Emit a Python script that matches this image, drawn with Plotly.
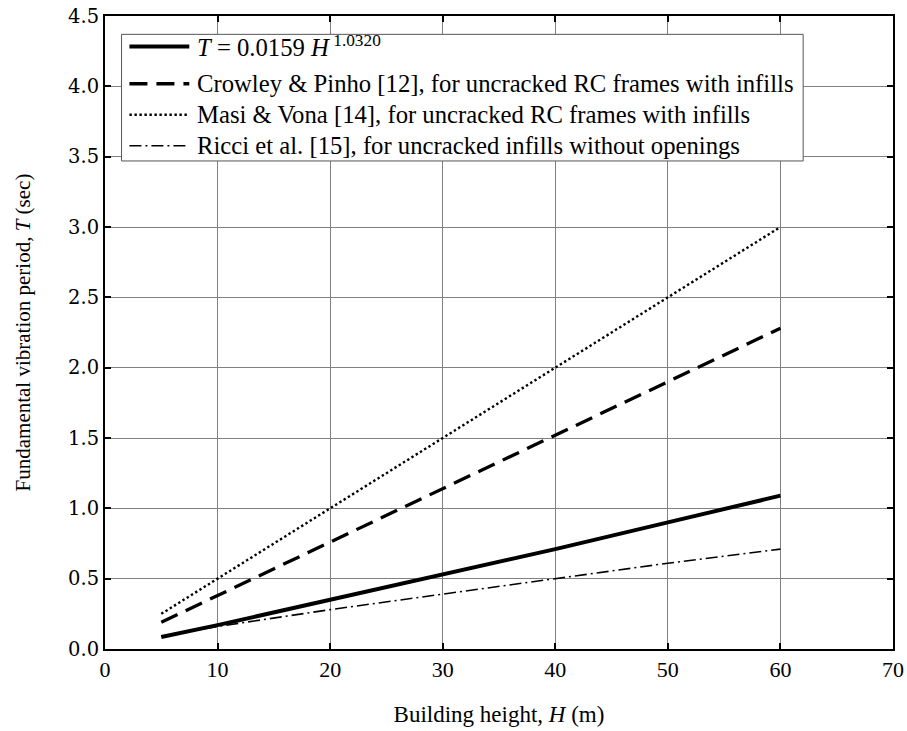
import plotly.graph_objects as go

# Data
H = [5, 10, 20, 30, 40, 50, 60]
T_proposed = [0.085, 0.17, 0.35, 0.53, 0.71, 0.90, 1.09]
T_crowley = [0.19, 0.38, 0.76, 1.14, 1.52, 1.90, 2.28]
T_masi = [0.25, 0.50, 1.00, 1.50, 2.00, 2.50, 3.00]
T_ricci = [0.09, 0.16, 0.28, 0.39, 0.50, 0.61, 0.71]

x_ticks = [0, 10, 20, 30, 40, 50, 60, 70]
y_ticks = [0.0, 0.5, 1.0, 1.5, 2.0, 2.5, 3.0, 3.5, 4.0, 4.5]
y_tick_text = [f"{v:.1f}" for v in y_ticks]

legend_labels = [
    "<i>T</i> = 0.0159 <i>H</i><sup> 1.0320</sup>",
    "Crowley &amp; Pinho [12], for uncracked RC frames with infills",
    "Masi &amp; Vona [14], for uncracked RC frames with infills",
    "Ricci et al. [15], for uncracked infills without openings",
]

styles = [
    dict(width=4, dash="solid"),
    dict(width=3.3, dash="18px,9px"),
    dict(width=2.4, dash="2.4px,2.6px"),
    dict(width=1.6, dash="12px,4px,2px,4px"),
]

series = [T_proposed, T_crowley, T_masi, T_ricci]

fig = go.Figure()
for ys, st, name in zip(series, styles, legend_labels):
    fig.add_trace(go.Scatter(x=H, y=ys, mode="lines", name=name,
                             line=dict(color="black", width=st["width"], dash=st["dash"]),
                             showlegend=False))

serif = "Liberation Serif, Times New Roman, serif"

# manual legend (paper coordinates)
lx0, lx1, ly0, ly1 = 0.021, 0.886, 0.771, 0.971
fig.add_shape(type="rect", xref="paper", yref="paper", x0=lx0, x1=lx1, y0=ly0, y1=ly1,
              line=dict(color="#555555", width=1), fillcolor="white", layer="above")
rows = [0.952, 0.893, 0.844, 0.795]
for yr, st, lab in zip(rows, styles, legend_labels):
    fig.add_shape(type="line", xref="paper", yref="paper", x0=0.031, x1=0.107, y0=yr, y1=yr,
                  line=dict(color="black", width=st["width"], dash=st["dash"]), layer="above")
    fig.add_annotation(xref="paper", yref="paper", x=0.114, y=yr, text=lab, showarrow=False,
                       xanchor="left", yanchor="middle",
                       font=dict(family=serif, size=24.7, color="black"))

fig.update_layout(
    width=907, height=731,
    margin=dict(l=105, r=14, t=16, b=82),
    plot_bgcolor="white", paper_bgcolor="white",
    font=dict(family=serif, color="black"),
)
fig.update_xaxes(range=[0, 70], tickvals=x_ticks, ticktext=[str(v) for v in x_ticks],
                 automargin=False,
                 showgrid=True, gridcolor="#808080", gridwidth=1,
                 showline=True, linecolor="black", linewidth=2, mirror="ticks",
                 ticks="inside", ticklen=6, tickcolor="black", tickwidth=1.5,
                 tickfont=dict(family=serif, size=22), zeroline=False,
                 title=dict(text="Building height, <i>H</i> (m)", font=dict(family=serif, size=23), standoff=24))
fig.update_yaxes(range=[0, 4.5], tickvals=y_ticks, ticktext=y_tick_text,
                 automargin=False,
                 showgrid=True, gridcolor="#808080", gridwidth=1,
                 showline=True, linecolor="black", linewidth=2, mirror="ticks",
                 ticks="inside", ticklen=6, tickcolor="black", tickwidth=1.5,
                 tickfont=dict(family="DejaVu Serif, serif", size=19.5), zeroline=False,
                 title=dict(text="Fundamental vibration period, <i>T</i> (sec)", font=dict(family=serif, size=21), standoff=32))

fig.write_html("out.html")
